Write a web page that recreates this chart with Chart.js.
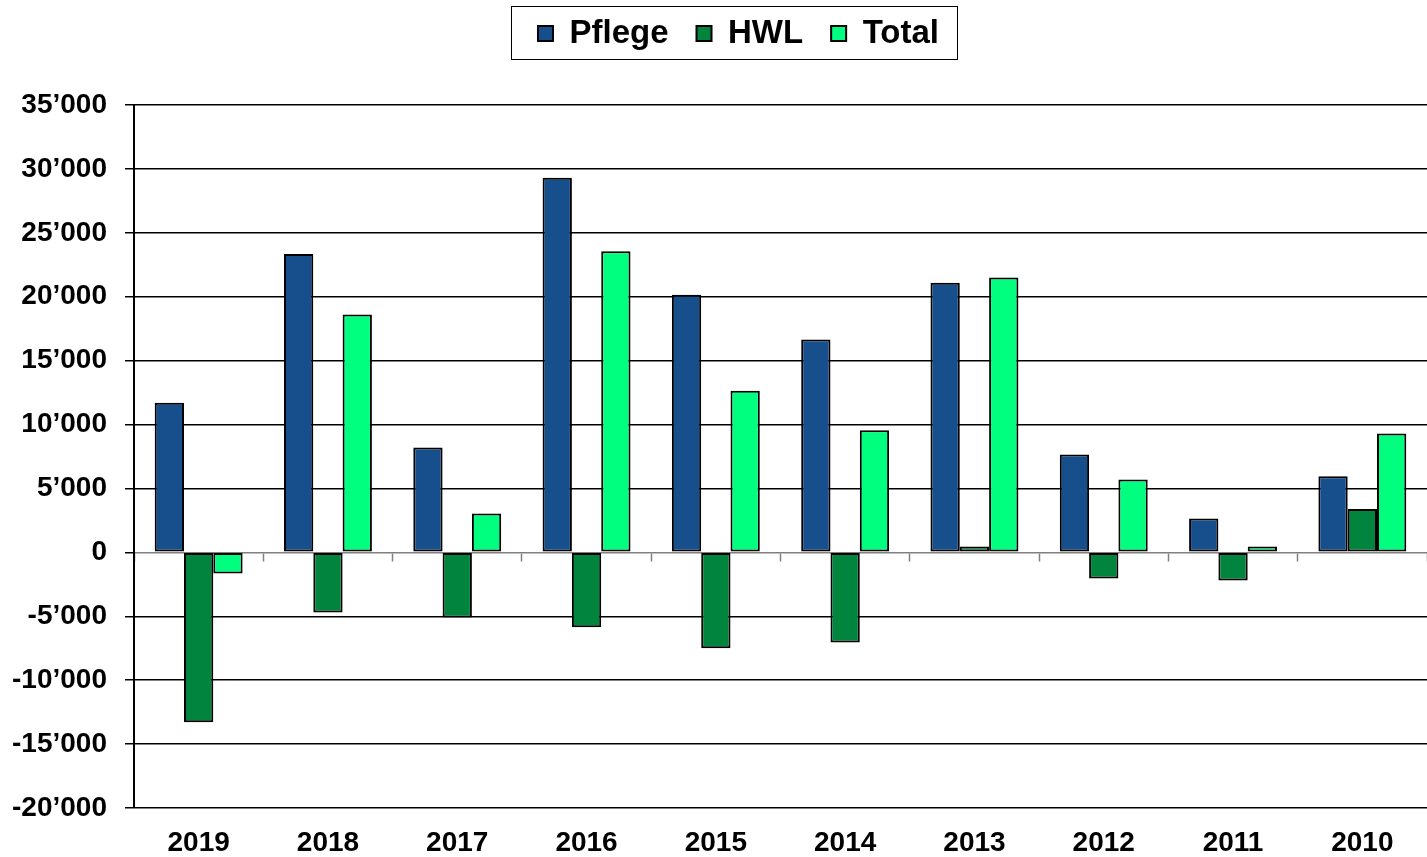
<!DOCTYPE html>
<html>
<head>
<meta charset="utf-8">
<script src="https://cdn.jsdelivr.net/npm/chart.js@4/dist/chart.umd.min.js"></script>
<style>
  body { margin: 0; background: #fff; }
  #wrap { width: 1427px; height: 857px; }
</style>
</head>
<body>
<div id="wrap"><canvas id="chart"></canvas></div>
<script>
  // years, newest first like the source sheet
  const years = ["2019", "2018", "2017", "2016", "2015", "2014", "2013", "2012", "2011", "2010"];

  const pflege = [11700, 23350, 8200, 29300, 20150, 16650, 21100, 7650, 2650, 5950];
  const hwl = [-13300, -4700, -5100, -5850, -7500, -7050, 450, -2050, -2200, 3400];
  const total = [-1650, 18600, 3050, 23550, 12650, 9550, 21500, 5700, 450, 9300];

  const yMin = -20000;
  const yMax = 35000;
  const yStep = 5000;

  const font = "'Liberation Sans', Arial, sans-serif";

  // 35'000 style labels
  function fmt(v) {
    const s = Math.abs(v).toString().replace(/\B(?=(\d{3})+(?!\d))/g, "\u2019");
    return (v < 0 ? "-" : "") + s;
  }

  // legend: fixed height, nudged right a bit, with a frame round the items
  const legendFrame = {
    id: "legendFrame",
    beforeInit(chart) {
      const fit = chart.legend.fit;
      chart.legend.fit = function () {
        fit.call(this);
        this.height = 116;
      };
    },
    afterLayout(chart) {
      chart.legend.left += 25;
      chart.legend.right += 25;
    },
    afterDraw(chart) {
      const boxes = chart.legend.legendHitBoxes;
      if (!boxes || !boxes.length) return;
      const left = Math.min(...boxes.map(b => b.left));
      const right = Math.max(...boxes.map(b => b.left + b.width));
      const top = Math.min(...boxes.map(b => b.top));
      const bottom = Math.max(...boxes.map(b => b.top + b.height));
      const c = chart.ctx;
      c.save();
      c.strokeStyle = "#000";
      c.lineWidth = 1;
      c.strokeRect(Math.round(left - 27) + 0.5, Math.round(top - 11) + 0.5, Math.round(right - left + 45), Math.round(bottom - top + 20));
      c.restore();
    }
  };

  const ctx = document.getElementById("chart").getContext("2d");

  new Chart(ctx, {
    type: "bar",
    data: {
      labels: years,
      datasets: [
        { label: "Pflege", data: pflege, backgroundColor: "#174f8c" },
        { label: "HWL", data: hwl, backgroundColor: "#00843e" },
        { label: "Total", data: total, backgroundColor: "#00ff7f" }
      ].map(d => Object.assign(d, {
        xAxisID: "x",
        borderColor: "#000",
        borderWidth: 2,
        borderSkipped: false,
        categoryPercentage: 0.68,
        barPercentage: 1.0
      }))
    },
    options: {
      responsive: true,
      maintainAspectRatio: false,
      animation: false,
      layout: { padding: { top: -11, left: 0, right: 0, bottom: 0 } },
      plugins: {
        tooltip: { enabled: false },
        legend: {
          position: "top",
          labels: {
            boxWidth: 15,
            boxHeight: 15,
            padding: 28,
            color: "#000",
            font: { family: font, size: 33, weight: "bold" }
          }
        }
      },
      scales: {
        x: {
          type: "category",
          position: "bottom",
          offset: true,
          afterFit: s => { s.height = 49; },
          grid: { display: false, drawTicks: false },
          border: { display: false },
          ticks: {
            color: "#000",
            padding: 18,
            maxRotation: 0,
            autoSkip: false,
            font: { family: font, size: 28, weight: "bold" }
          }
        },
        // category axis crossing at zero, with its tick marks between the years
        x0: {
          type: "category",
          position: { y: 0 },
          offset: true,
          grid: {
            offset: true,
            drawOnChartArea: false,
            drawTicks: true,
            tickLength: 8,
            tickColor: "#808080",
            tickWidth: 1.5
          },
          border: { display: true, color: "#808080", width: 1.5 },
          ticks: { display: false }
        },
        y: {
          min: yMin,
          max: yMax,
          afterFit: s => { s.width = 134; },
          grid: {
            color: c => (c.tick && c.tick.value === 0 ? "rgba(0,0,0,0)" : "#000"),
            tickColor: "#000",
            lineWidth: 1.5,
            tickLength: 9
          },
          border: { color: "#000", width: 2 },
          ticks: {
            stepSize: yStep,
            padding: 18,
            color: "#000",
            font: { family: font, size: 28, weight: "bold" },
            callback: v => fmt(v)
          }
        }
      }
    },
    plugins: [legendFrame]
  });
</script>
</body>
</html>
